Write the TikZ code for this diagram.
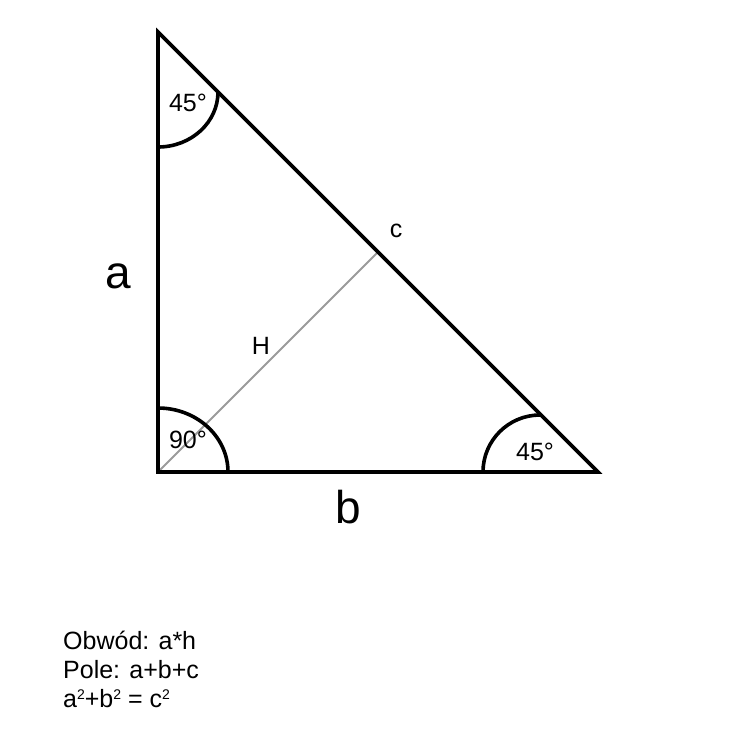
\documentclass[tikz,border=0pt]{standalone}
\usepackage{fontspec}
\setmainfont{Liberation Sans}
\newcommand\mysq{\raisebox{7.5pt}{\fontsize{14}{14}\selectfont 2}}
\begin{document}
\begin{tikzpicture}[x=1pt,y=-1pt,
  edge/.style={line width=3.6pt,line join=miter},
  arcline/.style={line width=3.6pt},
  alt/.style={line width=2pt,draw={rgb,255:red,155;green,155;blue,155}},
  lbl/.style={inner sep=0pt,font=\fontsize{25}{29}\selectfont},
  big/.style={inner sep=0pt,font=\fontsize{46}{52}\selectfont},
  formula/.style={inner sep=0pt,anchor=base west,font=\fontsize{25}{29}\selectfont}]
\useasboundingbox (0,0) rectangle (756,756);
\coordinate (A) at (158,32);
\coordinate (C) at (158,472);
\coordinate (B) at (598,472);
\coordinate (F) at (378,252);
\draw[alt] (C) -- (F);
\draw[edge] (C) -- (A) -- (B) -- cycle;
\draw[arcline] (158,147) arc[start angle=90,end angle=0,x radius=60,y radius=55];
\draw[arcline] (158,408) arc[start angle=270,end angle=360,x radius=70,y radius=64];
\draw[arcline] (483,472) arc[start angle=180,end angle=270,radius=57];
\node[lbl] (t1) at (188,103) {45°};
\node[lbl] (t2) at (188,440) {90°};
\node[lbl] (t3) at (535,452) {45°};
\node[lbl] (lc) at (396,231) {c};
\node[lbl] (lh) at (261,346) {H};
\node[big] (la) at (118,276) {a};
\node[big] (lb) at (348,507) {b};
\node[formula] (f1) at (63,649) {Obwód: a*h};
\node[formula] (f2) at (63,678) {Pole: a+b+c};
\node[formula] (f3) at (63,707) {a\mysq+b\mysq\ = c\mysq};
\end{tikzpicture}
\end{document}
